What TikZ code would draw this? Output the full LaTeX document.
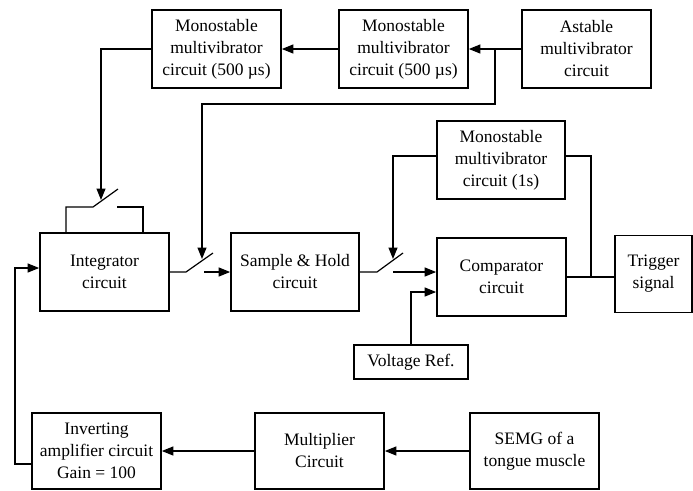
\documentclass[tikz,border=0pt]{standalone}
\usepackage{fontspec}
\setmainfont{Liberation Serif}
\usetikzlibrary{arrows.meta,calc}
\begin{document}
\begin{tikzpicture}[x=1pt,y=-1pt,
  box/.style={draw,line width=1.7pt,inner sep=0pt,align=center,
    minimum width=129pt,minimum height=78pt,font=\fontsize{17.5}{22}\selectfont},
  wire/.style={line width=1.2pt},
  arr/.style={wire,-{Triangle[length=11.5pt,width=9pt]}}]
\useasboundingbox (0,0) rectangle (693,490);
% boxes
\node[box] (m1) at (216.5,49) {Monostable\\multivibrator\\circuit (500 µs)};
\node[box] (m2) at (403.5,49) {Monostable\\multivibrator\\circuit (500 µs)};
\node[box] (ast) at (586.5,49) {Astable\\multivibrator\\circuit};
\node[box,minimum width=128pt] (m3) at (501,160) {Monostable\\multivibrator\\circuit (1s)};
\node[box] (integ) at (104.5,272) {Integrator\\circuit};
\node[box,minimum width=128pt] (sh) at (295,272) {Sample \& Hold\\circuit};
\node[box] (comp) at (501.5,277) {Comparator\\circuit};
\node[box,minimum width=77pt,minimum height=77pt] (trig) at (653.5,274) {Trigger\\signal};
\node[box,minimum width=114pt,minimum height=34pt] (vref) at (411,362) {Voltage Ref.};
\node[box,minimum height=76pt] (inv) at (96.5,451) {Inverting\\amplifier circuit\\Gain = 100};
\node[box,minimum height=76pt] (mult) at (319.5,451) {Multiplier\\Circuit};
\node[box,minimum height=76pt] (semg) at (534.5,451) {SEMG of a\\tongue muscle};
% helper points
\coordinate (j1) at ($(ast.west)!0.5!(m2.east)$);
\coordinate (k1) at (202,104);
\coordinate (c1) at (101,200);
\coordinate (c2) at (202,259);
\coordinate (c3) at (393,259);
\coordinate (j2) at (591,277);
\coordinate (fb1) at (15,464);
% top switch (integrator reset)
\coordinate (t1) at (66,207);
\coordinate (t2) at (93,207);
\coordinate (t3) at (118,189);
\coordinate (t4) at (117,207);
\coordinate (t5) at (143,207);
% switch integrator -> S&H
\coordinate (s1a) at (186,272);
\coordinate (s1b) at (213,253);
\coordinate (s1c) at (204,272);
% switch S&H -> comparator
\coordinate (s2a) at (377,272);
\coordinate (s2b) at (403,253);
\coordinate (s2c) at (393,272);
% connectors
\draw[arr] (ast.west) -- (m2.east);
\draw[arr] (m2.west) -- (m1.east);
\draw[arr] (m1.west) -| (c1);
\draw[arr] (j1) |- (k1) -- (c2);
\draw[wire] (t1 |- integ.north) -- (t1) -- (t2) -- (t3);
\draw[wire] (t4) -- (t5) -- (t5 |- integ.north);
\draw[wire] (integ.east) -- (s1a) -- (s1b);
\draw[arr] (s1c) -- (sh.west);
\draw[wire] (sh.east) -- (s2a) -- (s2b);
\draw[arr] (s2c) -- ([yshift=5pt]comp.west);
\draw[arr] ([yshift=4pt]m3.west) -| (c3);
\draw[wire] ([yshift=4pt]m3.east) -| (j2);
\draw[wire] (comp.east) -- (comp.east -| trig.west);
\draw[arr] (vref.north) |- ([yshift=-15pt]comp.west);
\draw[arr] (semg.west) -- (mult.east);
\draw[arr] (mult.west) -- (inv.east);
\draw[arr] ([yshift=-13pt]inv.west) -- (fb1) |- ([yshift=4pt]integ.west);
\end{tikzpicture}
\end{document}
